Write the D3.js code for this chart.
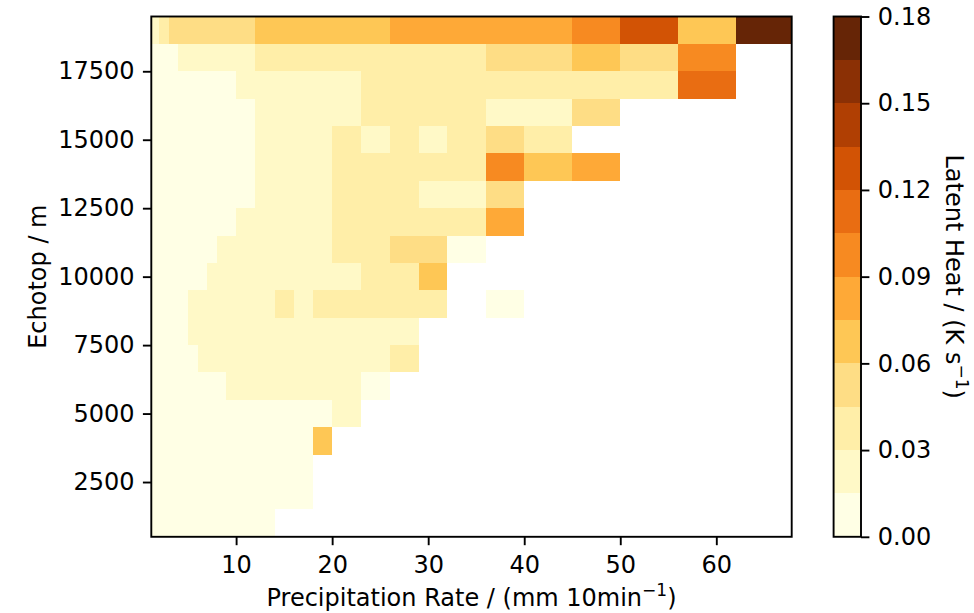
<!DOCTYPE html>
<html>
<head>
<meta charset="utf-8">
<script src="https://cdn.jsdelivr.net/npm/d3@7"></script>
<style>
  body { margin: 0; background: #fff; }
  text { font-family: "DejaVu Sans", sans-serif; fill: #000; }
</style>
</head>
<body>
<script>
// bin edges of the precipitation rate (mm 10min-1)
const rateEdges = [1.17, 2, 3, 4, 5, 6, 7, 8, 9, 10, 12, 14, 16, 18, 20, 23, 26, 29, 32, 36, 40, 45, 50, 56, 62, 67.85];

// bin edges of the echotop (m)
const echotopEdges = [500, 1500, 2500, 3500, 4500, 5500, 6500, 7500, 8500, 9500,
    10500, 11500, 12500, 13500, 14500, 15500, 16500, 17500, 18500, 19500];

// tick labels
const rateTicks = [10, 20, 30, 40, 50, 60];
const echotopTicks = [2500, 5000, 7500, 10000, 12500, 15000, 17500];
const heatTicks = [0, 0.03, 0.06, 0.09, 0.12, 0.15, 0.18];

// colour levels of the colorbar (K s-1)
const heatLevels = [0, 0.015, 0.03, 0.045, 0.06, 0.075, 0.09, 0.105, 0.12, 0.135, 0.15, 0.165, 0.18];

// latent heat per cell (K s-1), rows from lowest echotop bin up, null = no data
const _ = null;
const latentHeat = [
    [.007,.007,.007,.007,.007, .007,.007,.007,.007,.007, .007,_,_,_,_, _,_,_,_,_, _,_,_,_,_],
    [.007,.007,.007,.007,.007, .007,.007,.007,.007,.007, .007,.007,.007,_,_, _,_,_,_,_, _,_,_,_,_],
    [.007,.007,.007,.007,.007, .007,.007,.007,.007,.007, .007,.007,.007,_,_, _,_,_,_,_, _,_,_,_,_],
    [.007,.007,.007,.007,.007, .007,.007,.007,.007,.007, .007,.007,.007,.067,_, _,_,_,_,_, _,_,_,_,_],
    [.007,.007,.007,.007,.007, .007,.007,.007,.007,.007, .007,.007,.007,.007,.022, _,_,_,_,_, _,_,_,_,_],
    [.007,.007,.007,.007,.007, .007,.007,.007,.022,.022, .022,.022,.022,.022,.022, .007,_,_,_,_, _,_,_,_,_],
    [.007,.007,.007,.007,.007, .022,.022,.022,.022,.022, .022,.022,.022,.022,.022, .022,.037,_,_,_, _,_,_,_,_],
    [.007,.007,.007,.007,.022, .022,.022,.022,.022,.022, .022,.022,.022,.022,.022, .022,.022,_,_,_, _,_,_,_,_],
    [.007,.007,.007,.007,.022, .022,.022,.022,.022,.022, .022,.037,.022,.037,.037, .037,.037,.037,_,.007, _,_,_,_,_],
    [.007,.007,.007,.007,.007, .007,.022,.022,.022,.022, .022,.022,.022,.022,.022, .037,.037,.067,_,_, _,_,_,_,_],
    [.007,.007,.007,.007,.007, .007,.007,.022,.022,.022, .022,.022,.022,.022,.037, .037,.052,.052,.007,_, _,_,_,_,_],
    [.007,.007,.007,.007,.007, .007,.007,.007,.007,.022, .022,.022,.022,.022,.037, .037,.037,.037,.037,.082, _,_,_,_,_],
    [.007,.007,.007,.007,.007, .007,.007,.007,.007,.007, .022,.022,.022,.022,.037, .037,.037,.022,.022,.052, _,_,_,_,_],
    [.007,.007,.007,.007,.007, .007,.007,.007,.007,.007, .022,.022,.022,.022,.037, .037,.037,.037,.037,.097, .067,.082,_,_,_],
    [.007,.007,.007,.007,.007, .007,.007,.007,.007,.007, .022,.022,.022,.022,.037, .022,.037,.022,.037,.052, .037,_,_,_,_],
    [.007,.007,.007,.007,.007, .007,.007,.007,.007,.007, .022,.022,.022,.022,.022, .037,.037,.037,.037,.022, .022,.052,_,_,_],
    [.007,.007,.007,.007,.007, .007,.007,.007,.007,.022, .022,.022,.022,.022,.022, .037,.037,.037,.037,.037, .037,.037,.037,.112,_],
    [.007,.007,.007,.022,.022, .022,.022,.022,.022,.022, .037,.037,.037,.037,.037, .037,.037,.037,.037,.052, .052,.067,.052,.097,_],
    [.022,.037,.052,.052,.052, .052,.052,.052,.052,.052, .067,.067,.067,.067,.067, .067,.082,.082,.082,.082, .082,.097,.127,.067,.172]
];

// matplotlib YlOrBr anchors, linear between them
const ylOrBr = ["#ffffe5", "#fff7bc", "#fee391", "#fec44f", "#fe9929", "#ec7014", "#cc4c02", "#993404", "#662506"];
var cmap = d3.scaleLinear()
    .domain(d3.range(ylOrBr.length).map(function(i) { return i / (ylOrBr.length - 1); }))
    .range(ylOrBr)
    .interpolate(d3.interpolateRgb);

var nBands = heatLevels.length - 1;
var bandColors = d3.range(nBands).map(function(i) { return cmap(i / (nBands - 1)); });
var color = d3.scaleThreshold()
    .domain(heatLevels.slice(1, -1))
    .range(bandColors);

var svg = d3.select('body').append('svg')
    .attr('width', 974)
    .attr('height', 613);

// plot box in pixels
var pLeft = 151.3, pRight = 791.7, pTop = 16.5, pBottom = 536.8;
var fontSize = 24, tickLen = 8.4, lw = 1.9;

var x = d3.scaleLinear().domain([rateEdges[0], rateEdges[rateEdges.length - 1]]).range([pLeft, pRight]);
var y = d3.scaleLinear().domain([echotopEdges[0], echotopEdges[echotopEdges.length - 1]]).range([pBottom, pTop]);

// cells
var cells = [];
latentHeat.forEach(function(row, r) {
    row.forEach(function(v, c) {
        if (v !== null) cells.push({r: r, c: c, v: v});
    });
});

svg.append('g')
    .attr('shape-rendering', 'crispEdges')
    .selectAll('rect')
    .data(cells)
    .enter().append('rect')
    .attr('x', function(d) { return x(rateEdges[d.c]); })
    .attr('y', function(d) { return y(echotopEdges[d.r + 1]); })
    .attr('width', function(d) { return x(rateEdges[d.c + 1]) - x(rateEdges[d.c]); })
    .attr('height', function(d) { return y(echotopEdges[d.r]) - y(echotopEdges[d.r + 1]); })
    .attr('fill', function(d) { return color(d.v); });

// axes
function styleAxis(g) {
    g.select('.domain').remove();
    g.selectAll('.tick line').attr('stroke', '#000').attr('stroke-width', lw);
    g.selectAll('.tick text')
        .attr('font-family', '"DejaVu Sans", sans-serif')
        .attr('font-size', fontSize)
        .attr('fill', '#000');
}

svg.append('g')
    .attr('transform', 'translate(0,' + pBottom + ')')
    .call(d3.axisBottom(x).tickValues(rateTicks).tickSize(tickLen).tickPadding(10.5))
    .call(styleAxis);

svg.append('g')
    .attr('transform', 'translate(' + pLeft + ',0)')
    .call(d3.axisLeft(y).tickValues(echotopTicks).tickSize(tickLen).tickPadding(8.4).tickFormat(d3.format('d')))
    .call(styleAxis);

// frame
svg.append('rect')
    .attr('x', pLeft).attr('y', pTop)
    .attr('width', pRight - pLeft).attr('height', pBottom - pTop)
    .attr('fill', 'none').attr('stroke', '#000').attr('stroke-width', lw);

// axis labels
var xl = svg.append('text')
    .attr('x', (pLeft + pRight) / 2).attr('y', 606)
    .attr('text-anchor', 'middle')
    .attr('font-size', fontSize);
xl.append('tspan').text('Precipitation Rate / (mm 10min');
xl.append('tspan').attr('dy', -10).attr('font-size', 17).text('\u22121');
xl.append('tspan').attr('dy', 10).text(')');

svg.append('text')
    .attr('transform', 'translate(46,' + (pTop + pBottom) / 2 + ') rotate(-90)')
    .attr('text-anchor', 'middle')
    .attr('font-size', fontSize)
    .text('Echotop / m');

// colorbar
var cbLeft = 833.6, cbRight = 861;
var cy = d3.scaleLinear().domain([heatLevels[0], heatLevels[nBands]]).range([pBottom, pTop]);

svg.append('g')
    .attr('shape-rendering', 'crispEdges')
    .selectAll('rect')
    .data(d3.range(nBands))
    .enter().append('rect')
    .attr('x', cbLeft)
    .attr('y', function(i) { return cy(heatLevels[i + 1]); })
    .attr('width', cbRight - cbLeft)
    .attr('height', function(i) { return cy(heatLevels[i]) - cy(heatLevels[i + 1]); })
    .attr('fill', function(i) { return bandColors[i]; });

svg.append('rect')
    .attr('x', cbLeft).attr('y', pTop)
    .attr('width', cbRight - cbLeft).attr('height', pBottom - pTop)
    .attr('fill', 'none').attr('stroke', '#000').attr('stroke-width', lw);

svg.append('g')
    .attr('transform', 'translate(' + cbRight + ',0)')
    .call(d3.axisRight(cy).tickValues(heatTicks).tickSize(tickLen).tickPadding(8.4).tickFormat(d3.format('.2f')))
    .call(styleAxis);

var cl = svg.append('text')
    .attr('transform', 'translate(946,' + (pTop + pBottom) / 2 + ') rotate(90)')
    .attr('text-anchor', 'middle')
    .attr('font-size', fontSize);
cl.append('tspan').text('Latent Heat / (K s');
cl.append('tspan').attr('dy', -10).attr('font-size', 17).text('\u22121');
cl.append('tspan').attr('dy', 10).text(')');
</script>
</body>
</html>
